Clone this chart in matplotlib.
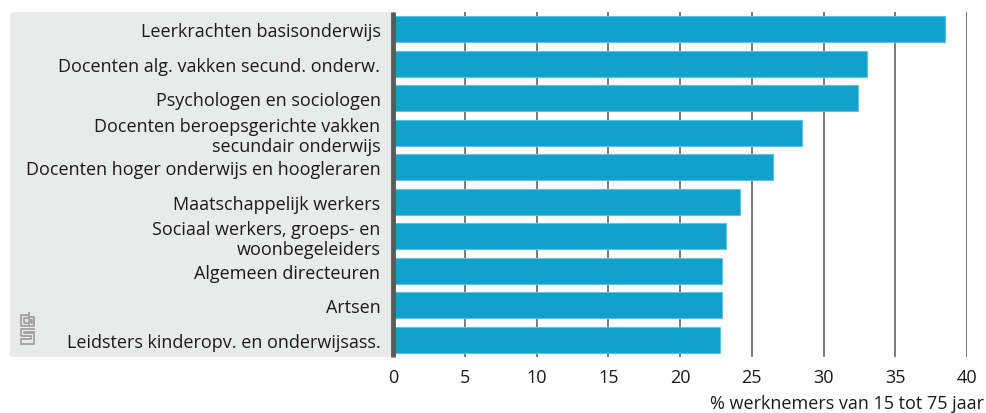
import matplotlib
matplotlib.use("Agg")
import matplotlib.pyplot as plt
from matplotlib.patches import FancyBboxPatch
from matplotlib.lines import Line2D

# data, top to bottom
categories = [
    "Leerkrachten basisonderwijs",
    "Docenten alg. vakken secund. onderw.",
    "Psychologen en sociologen",
    "Docenten beroepsgerichte vakken\nsecundair onderwijs",
    "Docenten hoger onderwijs en hoogleraren",
    "Maatschappelijk werkers",
    "Sociaal werkers, groeps- en\nwoonbegeleiders",
    "Algemeen directeuren",
    "Artsen",
    "Leidsters kinderopv. en onderwijsass.",
]
values = [38.5, 33.0, 32.4, 28.5, 26.5, 24.2, 23.2, 22.9, 22.9, 22.8]
xticks = [0, 5, 10, 15, 20, 25, 30, 35, 40]
xlabel = "% werknemers van 15 tot 75 jaar"

plt.rcParams["font.family"] = ["Open Sans", "DejaVu Sans"]

W, H = 986, 414
fig = plt.figure(figsize=(W / 100, H / 100), dpi=100)
ax = fig.add_axes([393 / W, 1 - 358 / H, (967 - 393) / W, (358 - 13) / H])


def px(x, y):
    # pixel coords from top-left -> figure fraction
    return x / W, 1 - y / H


# grey panel behind the category labels
x0, y0 = px(10, 358)
x1, y1 = px(393, 13)
panel = FancyBboxPatch((x0, y0), x1 - x0, y1 - y0,
                       boxstyle="round,pad=0,rounding_size=0.006",
                       transform=fig.transFigure, facecolor="#e9eaea",
                       edgecolor="none", zorder=-5)
fig.patches.append(panel)

# small cbs logo (rough outline)
logo = [
    [(27, 316), (21, 316), (21, 327), (27, 327)],
    [(27, 319), (24, 319), (24, 324), (27, 324)],
    [(29, 314), (29, 327), (34, 327), (34, 318), (29, 318)],
    [(31, 321), (31, 324), (32, 324), (32, 321), (31, 321)],
    [(34, 330), (21, 330), (21, 337), (31, 337), (31, 340), (21, 340), (21, 345), (34, 345),
     (34, 334), (24, 334), (24, 333), (34, 333)],
]
for pts in logo:
    xs = [px(p[0], p[1])[0] for p in pts]
    ys = [px(p[0], p[1])[1] for p in pts]
    fig.add_artist(Line2D(xs, ys, transform=fig.transFigure, color="#a0a0a0", lw=1.3))

ypos = list(range(len(categories)))
ax.barh(ypos, values, height=0.75, color="#12a1cb", edgecolor="#5ec3e2",
        linewidth=0.8, zorder=3)

ax.set_ylim(len(categories) - 0.5, -0.5)
ax.set_xlim(0, 40)
ax.set_yticks(ypos)
ax.set_yticklabels(categories, fontsize=13, color="#1a1a1a", linespacing=1.15)
ax.set_xticks(xticks)
ax.set_xticklabels([str(t) for t in xticks], fontsize=13, color="#1a1a1a")
ax.tick_params(axis="both", length=0)
ax.tick_params(axis="y", pad=9)
ax.tick_params(axis="x", pad=8)

ax.grid(axis="x", color="#6e6e6e", linewidth=1.3, zorder=1)
ax.set_axisbelow(True)
for side in ["top", "right", "bottom"]:
    ax.spines[side].set_visible(False)
ax.spines["left"].set_color("#5a5a5a")
ax.spines["left"].set_linewidth(3.5)
ax.spines["left"].set_capstyle("butt")
ax.spines["left"].set_zorder(4)
ax.patch.set_alpha(0)

fig.text(984 / W, 1 - 404 / H, xlabel, ha="right", va="center",
         fontsize=13, color="#1a1a1a")

fig.savefig("out.png", dpi=100)
